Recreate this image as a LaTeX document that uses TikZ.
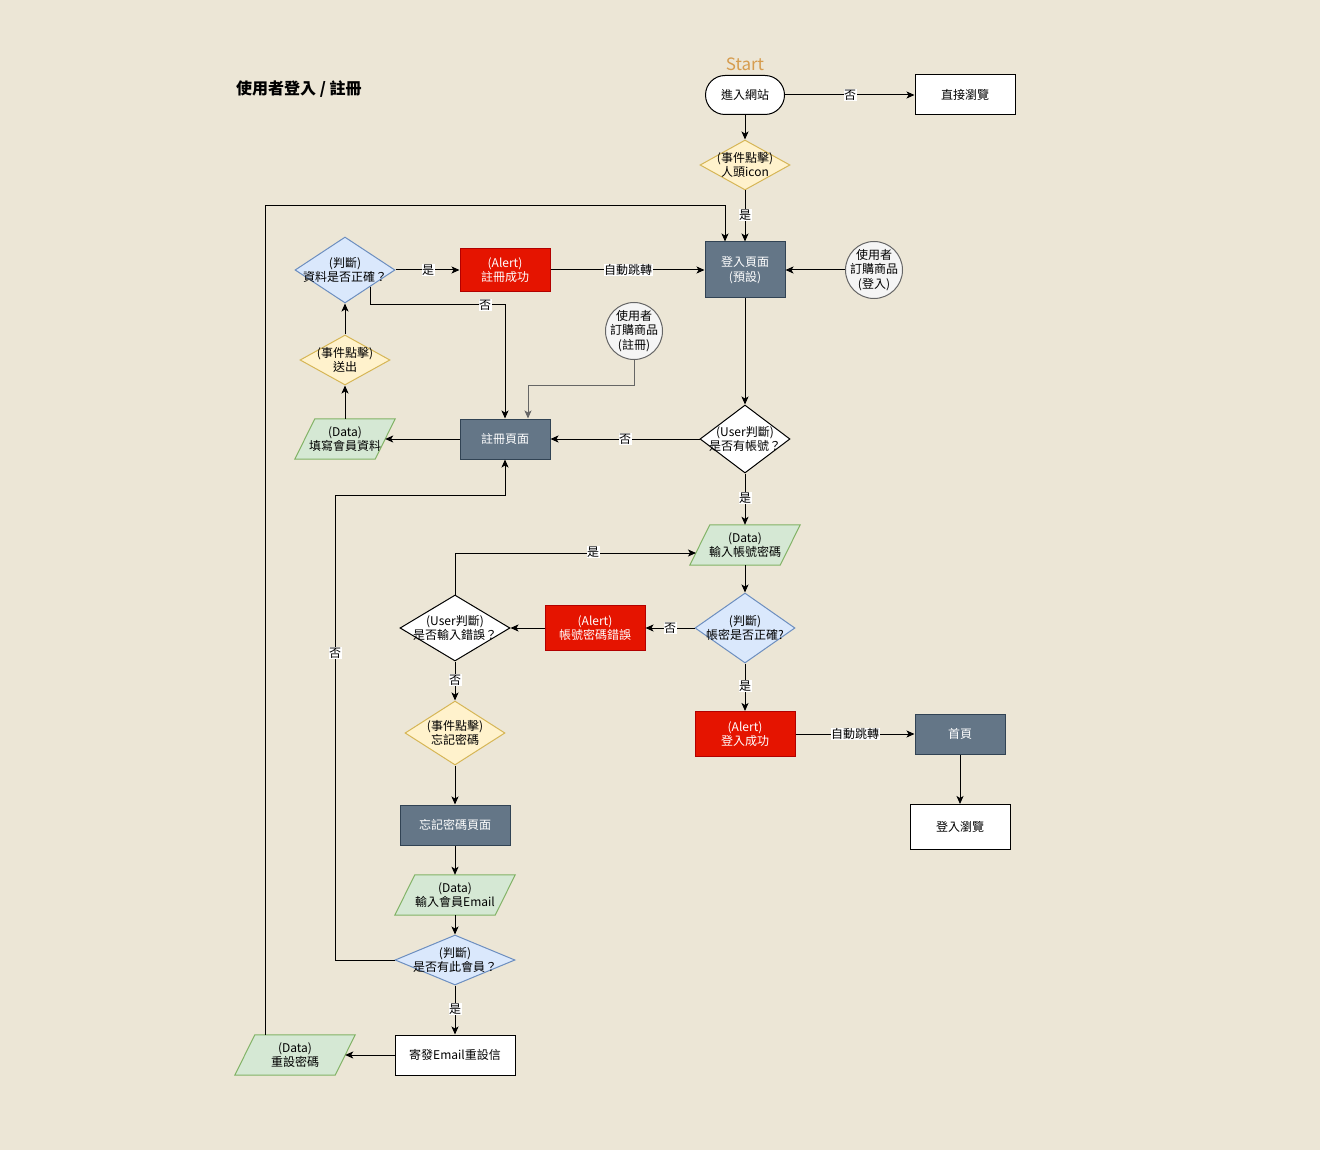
\documentclass[tikz,border=0pt]{standalone}
\usepackage{fontspec}
\setmainfont{Noto Sans CJK TC}
\usetikzlibrary{shapes.geometric,arrows.meta,calc}

\definecolor{bgc}{HTML}{ECE6D6}
\definecolor{yelF}{HTML}{FFF2CC}\definecolor{yelD}{HTML}{D6B656}
\definecolor{bluF}{HTML}{DAE8FC}\definecolor{bluD}{HTML}{6C8EBF}
\definecolor{grnF}{HTML}{D5E8D4}\definecolor{grnD}{HTML}{82B366}
\definecolor{slaF}{HTML}{647687}\definecolor{slaD}{HTML}{314354}
\definecolor{redF}{HTML}{E51400}\definecolor{redD}{HTML}{B20000}
\definecolor{cirF}{HTML}{F5F5F5}\definecolor{cirD}{HTML}{666666}
\definecolor{startc}{HTML}{D69C4E}

\pgfdeclarelayer{back}
\pgfdeclarelayer{shade}
\pgfsetlayers{back,shade,main}

\tikzset{
  txt/.style={font=\fontsize{12}{14.5}\selectfont, align=center, inner sep=0pt},
  boxbase/.style={txt, line width=1pt},
  plainbox/.style={boxbase, draw=black, fill=white},
  pagebox/.style={boxbase, draw=slaD, fill=slaF, text=white},
  alertbox/.style={boxbase, draw=redD, fill=redF, text=white},
  dia/.style={diamond, line width=1pt, inner sep=0pt, label={[txt]center:{#1}}},
  yeldia/.style={dia={#1}, draw=yelD, fill=yelF},
  bludia/.style={dia={#1}, draw=bluD, fill=bluF},
  whidia/.style={dia={#1}, draw=black, fill=white},
  databox/.style={txt, rectangle},
  paraline/.style={draw=grnD, fill=grnF, line width=1pt},
  circ/.style={circle, draw=cirD, fill=cirF, line width=1pt, inner sep=0pt,
    minimum size=57pt, label={[txt]center:{#1}}},
  arr/.style={-{Stealth[length=8pt,width=7pt,inset=2pt]}, line width=1pt},
  lbl/.style={fill=white, inner sep=0.5pt, font=\fontsize{12}{14}\selectfont},
}

\begin{document}
\begin{tikzpicture}[x=1pt,y=-1pt]
\begin{pgfonlayer}{back}
\fill[bgc] (0,0) rectangle (1320,1150);
\end{pgfonlayer}
\useasboundingbox (0,0) rectangle (1320,1150);

% heading and start marker
\node[anchor=west, font=\fontsize{16}{19}\selectfont\bfseries, inner sep=0pt] (title) at (236,89) {使用者登入 / 註冊};
\node[font=\fontsize{17}{20}\selectfont, text=startc, inner sep=0pt] (startlbl) at (745,64) {Start};

% login branch
\node[plainbox, rounded corners=19.5pt, minimum width=79pt, minimum height=39pt] (enter) at (745,95) {進入網站};
\node[plainbox, minimum width=100pt, minimum height=40pt] (browse) at (965,95) {直接瀏覽};
\node[yeldia={(事件點擊)\\人頭icon}, minimum width=90pt, minimum height=50pt] (icon) at (745,165) {};
\node[pagebox, minimum width=80pt, minimum height=56pt] (login) at (745,270) {登入頁面\\(預設)};
\node[circ={使用者\\訂購商品\\(登入)}] (circL) at (874,270) {};
\node[circ={使用者\\訂購商品\\(註冊)}] (circR) at (634,331) {};

% registration branch
\node[bludia={(判斷)\\資料是否正確？}, minimum width=100pt, minimum height=66pt] (chk1) at (345,270) {};
\node[alertbox, minimum width=90pt, minimum height=43pt] (ok1) at (505,270) {(Alert)\\註冊成功};
\node[yeldia={(事件點擊)\\送出}, minimum width=90pt, minimum height=50pt] (send) at (345,360) {};
\node[databox, minimum width=100pt, minimum height=40pt] (fill) at (345,439) {(Data)\\填寫會員資料};
\node[pagebox, minimum width=90pt, minimum height=40pt] (reg) at (505,439) {註冊頁面};
\node[whidia={(User判斷)\\是否有帳號？}, minimum width=90pt, minimum height=68pt] (has) at (745,439) {};

% credentials
\node[databox, minimum width=110pt, minimum height=40pt] (cred) at (745,545) {(Data)\\輸入帳號密碼};
\node[bludia={(判斷)\\帳密是否正確?}, minimum width=100pt, minimum height=70pt] (chk2) at (745,628) {};
\node[alertbox, minimum width=100pt, minimum height=45pt] (err) at (595,628) {(Alert)\\帳號密碼錯誤};
\node[whidia={(User判斷)\\是否輸入錯誤？}, minimum width=110pt, minimum height=66pt] (wrong) at (455,628) {};
\node[alertbox, minimum width=100pt, minimum height=45pt] (okL) at (745,734) {(Alert)\\登入成功};
\node[pagebox, minimum width=90pt, minimum height=40pt] (home) at (960,734) {首頁};
\node[plainbox, minimum width=100pt, minimum height=45pt] (lbrowse) at (960,827) {登入瀏覽};

% forgotten password
\node[yeldia={(事件點擊)\\忘記密碼}, minimum width=100pt, minimum height=64pt] (forgot) at (455,733) {};
\node[pagebox, minimum width=110pt, minimum height=40pt] (fpage) at (455,825) {忘記密碼頁面};
\node[databox, minimum width=120pt, minimum height=40pt] (email) at (455,895) {(Data)\\輸入會員Email};
\node[bludia={(判斷)\\是否有此會員？}, minimum width=120pt, minimum height=50pt] (member) at (455,960) {};
\node[plainbox, minimum width=120pt, minimum height=40pt] (mail) at (455,1055) {寄發Email重設信};
\node[databox, minimum width=120pt, minimum height=40pt] (reset) at (295,1055) {(Data)\\重設密碼};

% slanted outlines of the data nodes
\begin{pgfonlayer}{shade}
\foreach \n in {fill,cred,email,reset}{
  \path[paraline] (\n.south west) -- ([xshift=20pt]\n.north west)
    -- (\n.north east) -- ([xshift=-20pt]\n.south east) -- cycle;
}
\end{pgfonlayer}

% connector bends
\coordinate (loopA) at (265,1035);
\coordinate (loopB) at (725,206);
\coordinate (chkNo) at ($(chk1.east)!0.5!(chk1.south)$);
\coordinate (chkNoB) at (505,305);
\coordinate (circBend) at (528,385);
\coordinate (retry) at (696,553);
\coordinate (memBend) at (335,495);

% connectors
\draw[arr] (enter) -- (browse);
\draw[arr] (enter) -- (icon);
\draw[arr] (icon) -- (login);
\draw[arr] (loopA) |- (loopB) -- (loopB |- login.north);
\draw[arr] (circL) -- (login);
\draw[arr] (chk1) -- (ok1);
\draw[arr] (ok1) -- (login);
\draw[arr] (chkNo) |- (chkNoB) -- (reg.north -| chkNoB);
\draw[arr, draw=cirD] (circR.south) |- (circBend) -- (circBend |- reg.north);
\draw[arr] (login) -- (has);
\draw[arr] (has) -- (reg);
\draw[arr] (reg) -- ([xshift=-10pt]fill.east);
\draw[arr] (fill.north) -- (send);
\draw[arr] (send) -- (chk1);
\draw[arr] (has) -- (cred.north);
\draw[arr] (cred.south) -- (chk2);
\draw[arr] (chk2) -- (err);
\draw[arr] (err) -- (wrong);
\draw[arr] (wrong.north) |- (retry);
\draw[arr] (wrong) -- (forgot);
\draw[arr] (forgot) -- (fpage);
\draw[arr] (fpage) -- (email.north);
\draw[arr] (email.south) -- (member);
\draw[arr] (member.west) -| (memBend) -| (reg.south);
\draw[arr] (member) -- (mail);
\draw[arr] (mail) -- ([xshift=-10pt]reset.east);
\draw[arr] (chk2) -- (okL);
\draw[arr] (okL) -- (home);
\draw[arr] (home) -- (lbrowse);

% connector labels
\node[lbl] (l1) at (850,95) {否};
\node[lbl] (l2) at (745,215) {是};
\node[lbl] (l3) at (428,270) {是};
\node[lbl] (l4) at (628,270) {自動跳轉};
\node[lbl] (l5) at (485,305) {否};
\node[lbl] (l6) at (625,439) {否};
\node[lbl] (l7) at (745,498) {是};
\node[lbl] (l8) at (593,552) {是};
\node[lbl] (l9) at (670,628) {否};
\node[lbl] (l10) at (745,686) {是};
\node[lbl] (l11) at (455,680) {否};
\node[lbl] (l12) at (335,653) {否};
\node[lbl] (l13) at (455,1009) {是};
\node[lbl] (l14) at (855,734) {自動跳轉};
\end{tikzpicture}
\end{document}
